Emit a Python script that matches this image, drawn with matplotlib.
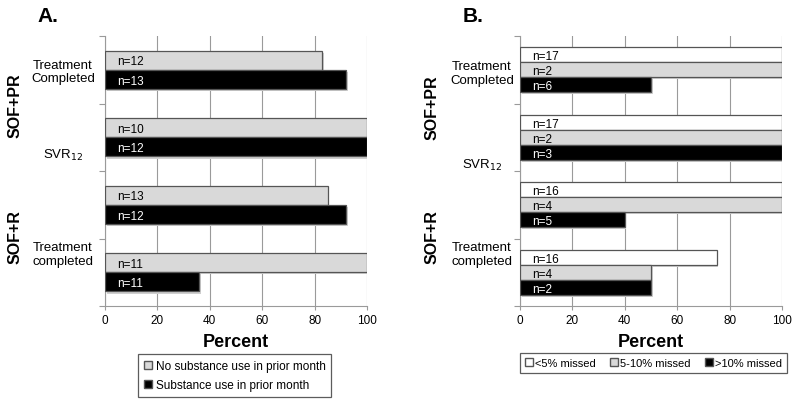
import numpy as np
import matplotlib
matplotlib.use('Agg')
import matplotlib.pyplot as plt
from matplotlib.patches import Patch
import matplotlib.transforms as mtransforms

plt.rcParams['font.family'] = ['Liberation Sans', 'DejaVu Sans']

# ---- data (percent), groups listed top to bottom ----
groups = ['SOF+PR Treatment Completed', 'SOF+PR SVR12', 'SOF+R SVR12', 'SOF+R Treatment completed']

# panel A
a_series = ['No substance use in prior month', 'Substance use in prior month']
a_no_use = [83, 100, 85, 100]
a_use = [92, 100, 92, 36]
a_n_no_use = ['n=12', 'n=10', 'n=13', 'n=11']
a_n_use = ['n=13', 'n=12', 'n=12', 'n=11']

# panel B
b_series = ['<5% missed', '5-10% missed', '>10% missed']
b_lt5 = [100, 100, 100, 75]
b_5to10 = [100, 100, 100, 50]
b_gt10 = [50, 100, 40, 50]
b_n_lt5 = ['n=17', 'n=17', 'n=16', 'n=16']
b_n_5to10 = ['n=2', 'n=2', 'n=4', 'n=4']
b_n_gt10 = ['n=6', 'n=3', 'n=5', 'n=2']

xticks = [0, 20, 40, 60, 80, 100]

GRAY = '#d9d9d9'
EDGE = '#555555'
GRID = '#9a9a9a'

W, H = 800, 406
fig = plt.figure(figsize=(W / 100, H / 100), dpi=100)


def px_axes(x0, y0, x1, y1):
    return fig.add_axes([x0 / W, 1 - y1 / H, (x1 - x0) / W, (y1 - y0) / H])


def style_axes(ax):
    ax.set_xlim(0, 100)
    ax.set_ylim(3.5, -0.5)
    ax.set_xticks(xticks)
    ax.tick_params(axis='x', length=3, width=0.8, color=GRID, labelsize=8.5, pad=3)
    ax.set_yticks([])
    ax.set_yticks(np.arange(-0.5, 4.0, 1.0), minor=True)
    ax.tick_params(axis='y', which='minor', length=4, width=0.8, color=GRID, direction='out')
    for s in ['top', 'right']:
        ax.spines[s].set_visible(False)
    for s in ['left', 'bottom']:
        ax.spines[s].set_color(GRID)
        ax.spines[s].set_linewidth(0.8)
    ax.grid(axis='x', color=GRID, linewidth=0.8)
    ax.set_axisbelow(True)
    ax.set_xlabel('Percent', fontsize=13, fontweight='bold', labelpad=5)


def shadow_bars(ax, y, vals, h, face, ncolor, labels):
    ax.barh(y + 0.03, vals, height=h, left=0.6, color='#cfcfcf', zorder=2, linewidth=0)
    ax.barh(y, vals, height=h, color=face, edgecolor=EDGE, linewidth=0.9, zorder=3)
    for yy, t in zip(y, labels):
        ax.text(4.5, yy + 0.02, t, fontsize=8.5, color=ncolor, va='center', ha='left', zorder=4)


def cat_labels(ax, xc, ys):
    tr = mtransforms.blended_transform_factory(ax.transAxes, ax.transData)
    ax.text(xc, ys[0], 'Treatment\nCompleted', transform=tr, ha='center', va='center',
            fontsize=9.5, linespacing=1.15)
    ax.text(xc, ys[1], 'SVR$_{12}$', transform=tr, ha='center', va='center', fontsize=9.5)
    ax.text(xc, ys[2], 'Treatment\ncompleted', transform=tr, ha='center', va='center',
            fontsize=9.5, linespacing=1.15)


y = np.arange(len(groups))

# ---- panel A ----
axA = px_axes(105, 37, 367, 307)
style_axes(axA)
ha = 0.285
shadow_bars(axA, y - ha / 2, a_no_use, ha, GRAY, 'black', a_n_no_use)
shadow_bars(axA, y + ha / 2, a_use, ha, 'black', 'white', a_n_use)
cat_labels(axA, -0.16, [0.03, 1.25, 2.73])
fig.text(37 / W, 1 - 16 / H, 'A.', fontsize=15, fontweight='bold', va='center', ha='left')
fig.text(15 / W, 1 - 106 / H, 'SOF+PR', rotation=90, fontsize=11.5, fontweight='bold',
         ha='center', va='center')
fig.text(15 / W, 1 - 237 / H, 'SOF+R', rotation=90, fontsize=11.5, fontweight='bold',
         ha='center', va='center')
legA = axA.legend(handles=[Patch(facecolor=GRAY, edgecolor=EDGE, label=a_series[0]),
                           Patch(facecolor='black', edgecolor=EDGE, label=a_series[1])],
                  loc='upper left', bbox_to_anchor=((138 - 105) / 262, -(355 - 307) / 270),
                  ncol=1, fontsize=8.5, frameon=True, fancybox=False, handlelength=0.7,
                  handleheight=0.7, handletextpad=0.3, labelspacing=0.6, borderpad=0.5,
                  borderaxespad=0)
legA.get_frame().set_edgecolor('#333333')
legA.get_frame().set_linewidth(0.9)

# ---- panel B ----
axB = px_axes(520, 37, 782, 307)
style_axes(axB)
hb = 0.222
shadow_bars(axB, y - hb, b_lt5, hb, 'white', 'black', b_n_lt5)
shadow_bars(axB, y, b_5to10, hb, GRAY, 'black', b_n_5to10)
shadow_bars(axB, y + hb, b_gt10, hb, 'black', 'white', b_n_gt10)
cat_labels(axB, -0.145, [0.05, 1.4, 2.73])
fig.text(463 / W, 1 - 16 / H, 'B.', fontsize=15, fontweight='bold', va='center', ha='left')
fig.text(432 / W, 1 - 108 / H, 'SOF+PR', rotation=90, fontsize=11.5, fontweight='bold',
         ha='center', va='center')
fig.text(432 / W, 1 - 237 / H, 'SOF+R', rotation=90, fontsize=11.5, fontweight='bold',
         ha='center', va='center')
legB = axB.legend(handles=[Patch(facecolor='white', edgecolor=EDGE, label=b_series[0]),
                           Patch(facecolor=GRAY, edgecolor=EDGE, label=b_series[1]),
                           Patch(facecolor='black', edgecolor=EDGE, label=b_series[2])],
                  loc='upper left', bbox_to_anchor=(0, -(354 - 307) / 270),
                  ncol=3, fontsize=8, frameon=True, fancybox=False, handlelength=0.7,
                  handleheight=0.7, handletextpad=0.2, columnspacing=1.3, borderpad=0.45,
                  borderaxespad=0)
legB.get_frame().set_edgecolor('#333333')
legB.get_frame().set_linewidth(0.9)

fig.savefig('out.png', dpi=100)
